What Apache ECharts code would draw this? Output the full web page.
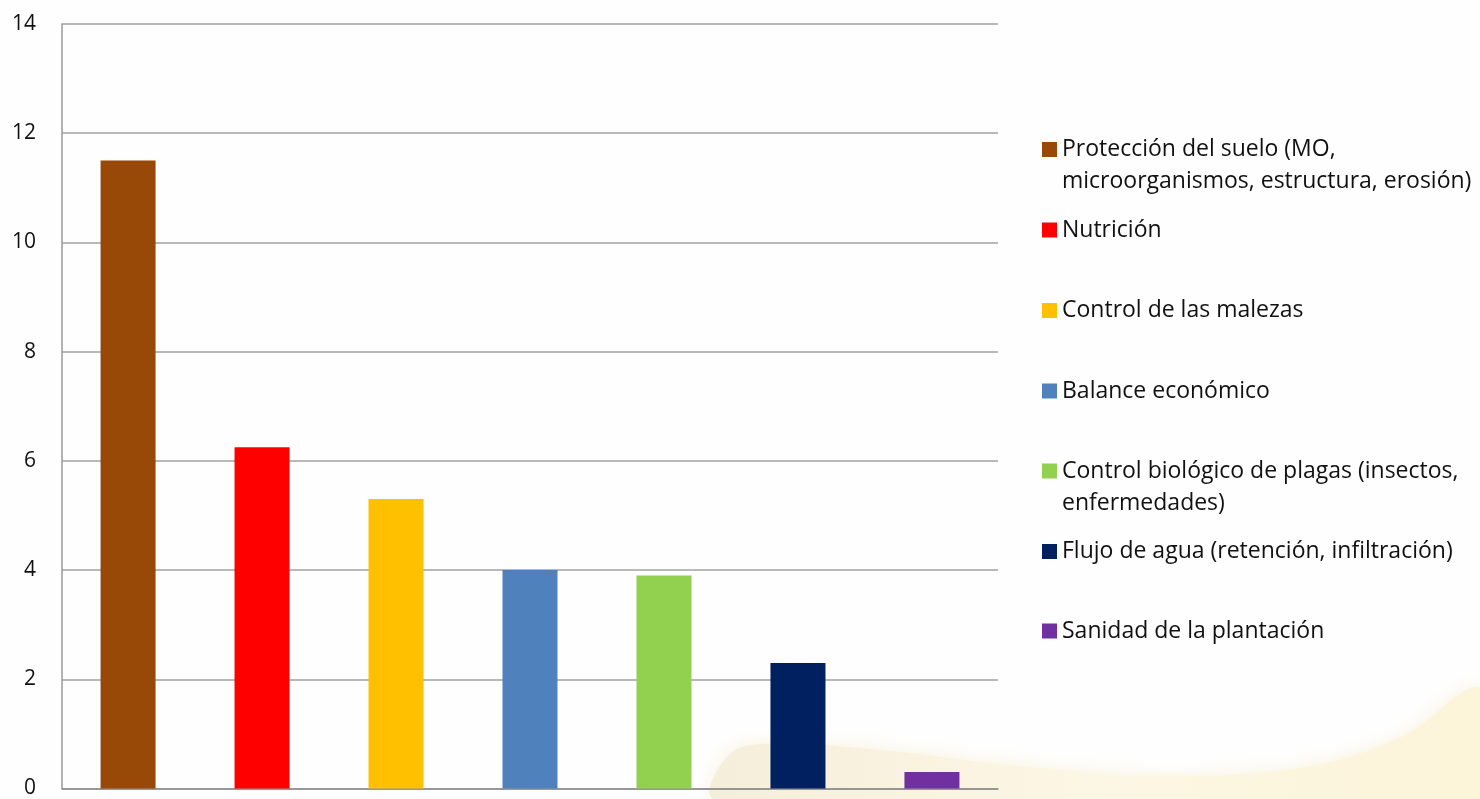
<!DOCTYPE html>
<html>
<head>
<meta charset="utf-8">
<script src="https://cdn.jsdelivr.net/npm/echarts@6/dist/echarts.min.js"></script>
<style>
html,body{margin:0;padding:0;background:#fefefe;}
#c{width:1480px;height:799px;}
</style>
</head>
<body>
<div id="c"></div>
<script>
const categories = [''];
const seriesNames = [
  'Protección del suelo (MO, microorganismos, estructura, erosión)',
  'Nutrición',
  'Control de las malezas',
  'Balance económico',
  'Control biológico de plagas (insectos, enfermedades)',
  'Flujo de agua (retención, infiltración)',
  'Sanidad de la plantación'
];
const legendLabels = [
  'Protección del suelo (MO,\nmicroorganismos, estructura, erosión)',
  'Nutrición',
  'Control de las malezas',
  'Balance económico',
  'Control biológico de plagas (insectos,\nenfermedades)',
  'Flujo de agua (retención, infiltración)',
  'Sanidad de la plantación'
];
const seriesValues = [11.5, 6.25, 5.3, 4.0, 3.9, 2.3, 0.3];
const seriesColors = ['#984807', '#ff0000', '#ffc000', '#4f81bd', '#92d050', '#002060', '#7030a0'];
const yTicks = { min: 0, max: 14, interval: 2 };
const legendCenters = [149.5, 230, 310.5, 391, 471, 551.5, 631];

const LH = 32;
const chart = echarts.init(document.getElementById('c'), null, {renderer: 'canvas'});

const legends = seriesNames.map((name, i) => {
  const multi = legendLabels[i].indexOf('\n') >= 0;
  return {
    data: [name],
    left: 1042,
    top: multi ? legendCenters[i] - 48 : legendCenters[i] - 16,
    padding: 0,
    orient: 'vertical',
    icon: 'rect',
    itemWidth: 15,
    itemHeight: 15,
    itemGap: 0,
    selectedMode: false,
    // an empty first line keeps the icon level with the first text line
    formatter: n => {
      const lbl = legendLabels[seriesNames.indexOf(n)];
      return lbl.indexOf('\n') >= 0 ? '\n' + lbl : lbl;
    },
    textStyle: {
      fontFamily: 'Open Sans',
      fontSize: 23,
      color: '#111',
      lineHeight: LH
    }
  };
});

chart.setOption({
  animation: false,
  backgroundColor: '#fefefe',
  graphic: [{
    type: 'polygon',
    z: -10,
    silent: true,
    shape: {
      points: [[715,799],[732,752],[790,744],[900,752],[1000,764],[1150,776],[1300,768],[1400,738],[1480,688],[1480,799]],
      smooth: 0.35
    },
    style: {
      fill: new echarts.graphic.LinearGradient(0, 0, 1, 0, [
        {offset: 0, color: '#f5eedb'},
        {offset: 0.5, color: '#fcf7e4'},
        {offset: 1, color: '#fcf4d8'}
      ]),
      shadowBlur: 18,
      shadowColor: 'rgba(247,240,215,0.9)'
    }
  }],
  grid: {left: 62, right: 482, top: 24, bottom: 10, containLabel: false},
  legend: legends,
  xAxis: {
    type: 'category',
    data: categories,
    axisLine: {show: true, lineStyle: {color: '#8c8c8c', width: 1.5}},
    axisTick: {show: false},
    axisLabel: {show: false}
  },
  yAxis: {
    type: 'value',
    min: yTicks.min,
    max: yTicks.max,
    interval: yTicks.interval,
    axisLine: {show: true, lineStyle: {color: '#999', width: 1.5}},
    axisTick: {show: false},
    splitLine: {show: true, lineStyle: {color: '#a0a0a0', width: 1.5}},
    axisLabel: {fontFamily: 'Open Sans', fontSize: 21, color: '#111', margin: 26}
  },
  series: seriesNames.map((name, i) => ({
    type: 'bar',
    name: name,
    data: [seriesValues[i]],
    barWidth: 55,
    barGap: '143.6%',
    itemStyle: {color: seriesColors[i]}
  }))
});
</script>
</body>
</html>
